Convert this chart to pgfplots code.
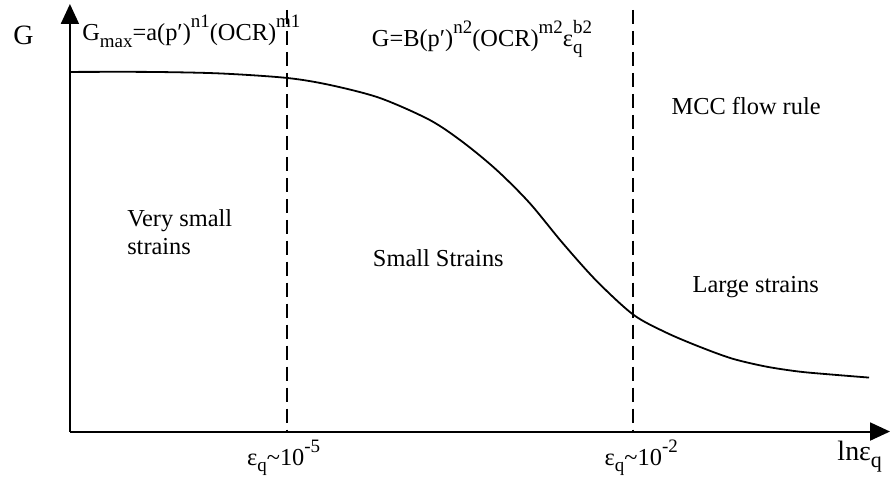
\documentclass[border=0pt]{standalone}
\usepackage{fontspec}
\setmainfont{Liberation Serif}
\usepackage{pgfplots}
\pgfplotsset{compat=1.18}
\usetikzlibrary{arrows.meta}

% raised / lowered script text, set in the text font
\newcommand\sps[1]{\raisebox{6.5pt}{\fontsize{9.5}{10}\selectfont #1}}
\newcommand\sbs[1]{\raisebox{-3.2pt}{\fontsize{9.5}{10}\selectfont #1}}
\newcommand\supsub[2]{\rlap{\sbs{#2}}\sps{#1}}
\newcommand\lbl{\fontsize{12.2}{14}\selectfont}
\newcommand\axl{\fontsize{14}{16}\selectfont}

\begin{document}
\begin{tikzpicture}
\begin{axis}[
  width=445.5pt, height=241.5pt, scale only axis,
  xmin=0, xmax=891, ymin=0, ymax=483, y dir=reverse,
  hide axis, clip=false,
]
% frame of the page
\path (axis cs:0,0) (axis cs:891,483);

% axes with arrow heads
\draw[line width=1pt, -{Triangle[length=10pt,width=9pt]}] (axis cs:70,432) -- (axis cs:70,4);
\draw[line width=1pt, -{Triangle[length=10pt,width=9pt]}] (axis cs:70,432) -- (axis cs:891,432);

% boundaries between the strain ranges
\addplot[line width=0.9pt, dash pattern=on 7pt off 3.5pt] coordinates {(287,10) (287,432)};
\addplot[line width=0.9pt, dash pattern=on 7pt off 3.5pt] coordinates {(634,10) (634,432)};

% degradation curve of the shear modulus
\addplot[line width=0.9pt, smooth, tension=0.5] coordinates {
  (70,72) (150,72) (220,73.5) (287,78) (330,85) (380,98) (430,120)
  (463,142) (497,170) (530,203) (563,243) (597,281) (634,315)
  (667,333) (700,347) (733,359) (767,367) (800,372) (833,375) (870,378)
};

% axis labels
\node[anchor=base west, inner sep=0pt] at (axis cs:13,45) {\axl G};
\node[anchor=base west, inner sep=0pt] at (axis cs:838,461) {\axl lnε\raisebox{-3.6pt}{\fontsize{11}{12}\selectfont q}};
\node[anchor=base west, inner sep=0pt] at (axis cs:247,466) {\lbl ε\sbs{q}\textasciitilde10\sps{-5}};
\node[anchor=base west, inner sep=0pt] at (axis cs:605,466) {\lbl ε\sbs{q}\textasciitilde10\sps{-2}};

% model expressions
\node[anchor=base west, inner sep=0pt] at (axis cs:82,41) {\lbl G\sbs{max}=a(p′)\sps{n1}(OCR)\sps{m1}};
\node[anchor=base west, inner sep=0pt] at (axis cs:372,47) {\lbl G=B(p′)\sps{n2}(OCR)\sps{m2}ε\supsub{b2}{q}};
\node[anchor=base west, inner sep=0pt] at (axis cs:672,115) {\lbl MCC flow rule};

% strain ranges
\node[anchor=base west, inner sep=0pt] at (axis cs:127,227) {\lbl Very small};
\node[anchor=base west, inner sep=0pt] at (axis cs:127,255) {\lbl strains};
\node[anchor=base west, inner sep=0pt] at (axis cs:373,267) {\lbl Small Strains};
\node[anchor=base west, inner sep=0pt] at (axis cs:693,293) {\lbl Large strains};
\end{axis}
\end{tikzpicture}
\end{document}
